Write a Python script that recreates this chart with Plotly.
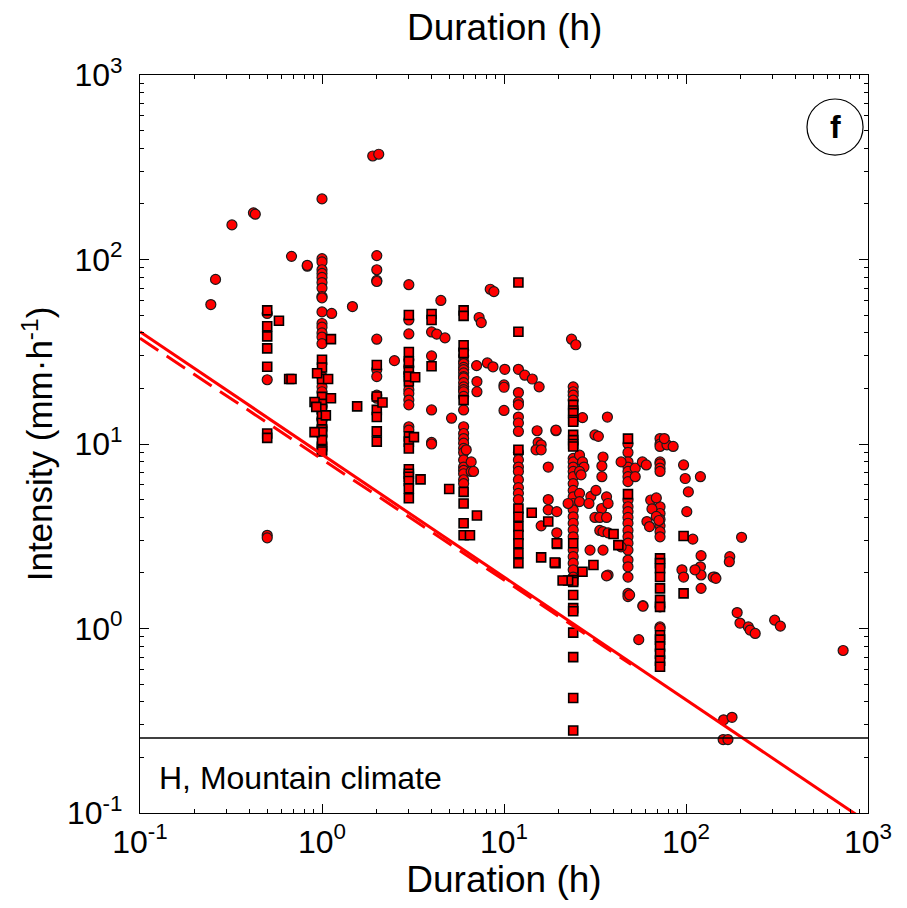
import plotly.graph_objects as go

# ---------------- data (duration h, intensity mm/h) ----------------
# circles grouped by duration column
circ_05h = [51, 22.3, 3.2, 3.1]
circ_1h = [213, 101, 97, 88, 84, 80, 75, 70, 63, 62, 52, 45, 43, 40, 38, 35,
           23.2, 20.4, 19.2, 17.3, 16, 14.7, 13.8, 13.5, 12.4, 11.9, 11.0, 10.1, 9.7, 9.3]
circ_2h = [105, 88, 77, 76, 37, 25.3, 23.2, 18.4, 17.7]
circ_3h = [73, 47, 39.5, 28.6, 26.2, 24.2, 19.7, 18.8, 17.3, 16.3, 12.4, 11.9]
circ_4h = [40.5, 30, 15.3, 10.2, 10.0]
circ_6h = [32.3, 30, 28, 27.3, 26, 25.3, 24.3, 23.2, 22.8, 21.5, 20.4, 19.7, 19.2, 18.1,
           15.3, 12.4, 11.4, 10.7, 10.1, 9.47, 9.0, 8.2, 7.5, 7.2, 6.9, 6.4, 6.1]
circ_12h = [25.4, 19, 16.9, 16.3, 14.0, 13.0, 11.7, 9.0, 8.2, 7.5, 7.1, 6.4, 5.8, 5.4, 5.0]
circ_24h = [20.4, 19.2, 18.4, 17.3, 8.36, 8.0, 7.5, 7.1, 6.65, 6.1, 5.6, 5.17, 4.76,
            4.4, 4.03, 3.72, 3.42, 3.14, 2.66, 2.45, 2.26, 2.08, 1.9]
circ_48h = [10.0, 9.0, 8.0, 7.5, 7.1, 6.65, 6.25, 4.97, 4.57, 4.3, 4.0, 3.72, 3.4, 3.14,
            2.9, 2.66, 2.35, 2.16, 1.9, 1.55, 1.49]
circ_72h = [10.7, 10.0, 9.7, 8.0, 7.8, 7.4, 7.1, 4.57, 4.2, 3.9, 3.6, 3.35, 3.14, 1.31, 1.02, 1.0]

# squares grouped by duration column
sq_05h = [53, 43.5, 38.3, 33, 26.2, 11.4, 10.8]
sq_1h = [28.6, 26, 22.5, 18, 16.5, 15.5, 14.3, 13, 12, 11.6, 10.5, 9.3, 9.1]
sq_2h = [26.8, 18.1, 15.3, 14.0, 11.7, 10.3]
sq_3h = [50, 31.5, 28, 24.6, 21.8, 23.2, 11, 10.3, 9.46, 7.3, 6.9, 6.65, 6.3, 5.75, 5.08]
sq_4h = [50.7, 47, 26.4]
sq_6h = [53, 49.5, 34.3, 31.1, 17.3, 5.5, 4.76, 3.72, 3.2]
sq_12h = [75, 40.6, 9.3, 4.47, 4.03, 3.56, 3.21, 2.9, 2.56, 2.26]
sq_24h = [16.3, 15.2, 14.7, 13.5, 13.2, 11.2, 10.5, 10.0, 9.7, 2.9, 1.83, 1.79, 1.52,
          1.29, 1.24, 0.95, 0.70, 0.42, 0.28]
sq_48h = [10.7, 5.35]
sq_72h = [2.4, 2.26, 2.12, 1.9, 1.65, 1.43, 1.31, 0.92, 0.87, 0.80, 0.73, 0.67, 0.62]

# off-column circles
circ_other_dur = [0.245, 0.26, 0.32, 0.42, 0.43, 0.68, 0.83, 0.83, 1.13, 1.47, 1.9, 2.05,
                  2.5, 4.27, 4.74, 5.15, 4.5, 6.2, 6.6, 6.6, 6.8, 7.3, 7.5, 7.07, 8.1, 8.7,
                  7.1, 7.1, 8.4, 8.8, 10.1, 10, 10, 10, 13, 14.3, 15.6, 15.2, 19.3, 15.4,
                  16, 15, 16, 17.5, 17.5, 17.5, 19.5, 16, 19.5, 19.3, 23.5, 24.8, 27, 26,
                  27, 27.5, 26, 26.5, 26, 26, 22.5, 37, 31.6, 33, 35, 34.5, 34.5, 30, 29.3,
                  32, 34.4, 36.6, 37.3, 31.6, 33.6, 36.6, 33.6, 35, 37.3, 44, 29.7, 35,
                  37.3, 36.6, 52.6, 52.6, 44, 57.6, 60.5, 64, 68.7, 65, 68.7, 71, 61, 63,
                  49, 58, 55, 58, 78.6, 76, 85, 97, 99, 103, 101, 109, 121, 120, 121, 121,
                  95, 97, 112, 120, 144, 141, 146, 174, 173, 202, 191, 198, 220, 225, 240,
                  307, 330, 730, 161, 179, 160, 170]
circ_other_int = [57, 78, 154, 179, 176, 104, 92, 93, 51, 55.6, 364, 372,
                  28.3, 39.4, 37.6, 13.8, 60, 9.3, 8.0, 7.1, 7.1, 48.5, 45.5, 26.6, 27.5, 26.2,
                  21.8, 19.2, 69, 67, 25.4, 20.9, 20.3, 15.2, 23.6, 22.5, 20.4, 11.8, 11.8, 10.2,
                  9.9, 9.3, 9.3, 7.5, 5.0, 4.4, 4.3, 3.6, 3.3, 11.9, 37, 34.5, 13.9, 8.7,
                  8.0, 7.5, 7.1, 6.8, 5.4, 4.87, 4.76, 14, 11.2, 11, 8.5, 7.6, 6.65, 5.2, 4.76,
                  5.6, 4.47, 5.17, 4.76, 4.0, 4.0, 4.0, 3.4, 3.35, 3.3, 2.77, 2.66, 2.66,
                  1.95, 1.93, 7.4, 6.65, 8.0, 8.0, 7.7, 4.97, 5.1, 4.45, 4.05, 3.85, 3.8, 3.57,
                  1.52, 1.33, 0.87, 1.32, 9.9, 10.7, 9.7, 7.7, 6.5, 5.5, 4.3, 3.05, 2.48, 2.16, 1.95,
                  1.65, 2.08, 1.9, 2.08, 6.65, 1.9, 1.9, 1.87, 2.45, 2.3, 3.12, 1.22, 1.07, 1.02, 0.98, 0.94,
                  1.11, 1.03, 0.76, 0.32, 0.33, 0.25, 0.25]

# off-column squares
sq_other_dur = [0.58, 0.66, 0.68, 0.94, 0.91, 0.93, 0.91, 1.08, 1.12, 1.12, 1.05, 1.56,
                2.15, 3.25, 3.2, 3.48, 5.0, 7.1, 6.5, 14.2, 17.5, 19.6, 16, 19.2, 19.5, 19,
                40, 42.5, 27, 31, 22.5, 21, 97, 97]
sq_other_int = [46.6, 22.5, 22.5, 24.2, 16.9, 15.9, 11.6, 22.5, 37, 17.7, 14.3, 16,
                16.8, 23, 10.9, 6.43, 5.7, 4.1, 3.2, 4.24, 3.8, 2.87, 2.43, 2.26, 2.9, 2.28,
                3.25, 2.83, 2.03, 2.21, 1.82, 1.82, 3.17, 1.55]

# threshold curves I = a * (D/0.1)^(-b)
thr_solid = (40.6, 0.665)
thr_dashed = (37.4, 0.655)
thr_dashed_end = 50
lower_limit = 0.255

circ_cols = {0.5: circ_05h, 1: circ_1h, 2: circ_2h, 3: circ_3h, 4: circ_4h, 6: circ_6h,
             12: circ_12h, 24: circ_24h, 48: circ_48h, 72: circ_72h}
sq_cols = {0.5: sq_05h, 1: sq_1h, 2: sq_2h, 3: sq_3h, 4: sq_4h, 6: sq_6h,
           12: sq_12h, 24: sq_24h, 48: sq_48h, 72: sq_72h}

cx, cy = [], []
for d, vals in circ_cols.items():
    cx += [d] * len(vals)
    cy += vals
cx += circ_other_dur
cy += circ_other_int
sx, sy = [], []
for d, vals in sq_cols.items():
    sx += [d] * len(vals)
    sy += vals
sx += sq_other_dur
sy += sq_other_int

FONT = "Liberation Sans, Arial, Helvetica, sans-serif"

fig = go.Figure()
fig.add_trace(go.Scatter(x=cx, y=cy, mode="markers",
                         marker=dict(symbol="circle", size=10, color="#ff0000",
                                     line=dict(color="#1a1a1a", width=1.2)),
                         showlegend=False))
fig.add_trace(go.Scatter(x=sx, y=sy, mode="markers",
                         marker=dict(symbol="square", size=9, color="#ff0000",
                                     line=dict(color="#000000", width=1.6)),
                         showlegend=False))

xs = [0.1, 1000]
fig.add_trace(go.Scatter(x=xs, y=[thr_solid[0] * (x / 0.1) ** (-thr_solid[1]) for x in xs],
                         mode="lines", line=dict(color="#ff0000", width=3), showlegend=False))
xd = [0.1, thr_dashed_end]
fig.add_trace(go.Scatter(x=xd, y=[thr_dashed[0] * (x / 0.1) ** (-thr_dashed[1]) for x in xd],
                         mode="lines", line=dict(color="#ff0000", width=3, dash="22px,10px"),
                         showlegend=False))

minor_vals = [m * 10 ** e for e in range(-1, 3) for m in range(2, 10)]
sup = lambda e: "10<sup>%d</sup>" % e

fig.update_xaxes(type="log", range=[-1, 3], automargin=False,
                 tickvals=[0.1, 1, 10, 100, 1000], ticktext=[sup(e) for e in range(-1, 4)],
                 ticks="inside", ticklen=9, tickwidth=1, tickcolor="black",
                 minor=dict(tickvals=minor_vals, ticks="inside", ticklen=4, tickcolor="black"),
                 showline=True, linecolor="black", linewidth=1.2, mirror="allticks",
                 showgrid=False, zeroline=False,
                 tickfont=dict(family=FONT, size=32, color="black"),
                 title=dict(text="Duration (h)", font=dict(family=FONT, size=37, color="black"),
                            standoff=4))
fig.update_yaxes(type="log", range=[-1, 3], automargin=False,
                 tickvals=[0.1, 1, 10, 100, 1000], ticktext=[sup(e) for e in range(-1, 4)],
                 ticks="inside", ticklen=9, tickwidth=1, tickcolor="black",
                 minor=dict(tickvals=minor_vals, ticks="inside", ticklen=4, tickcolor="black"),
                 showline=True, linecolor="black", linewidth=1.2, mirror="allticks",
                 showgrid=False, zeroline=False, ticklabelstandoff=10,
                 tickfont=dict(family=FONT, size=32, color="black"),
                 title=dict(text="Intensity (mm·h<sup>-1</sup>)",
                            font=dict(family=FONT, size=35, color="black"), standoff=3))

fig.add_shape(type="line", xref="x domain", yref="y", x0=0, x1=1, y0=lower_limit, y1=lower_limit,
              line=dict(color="black", width=1.3))
fig.add_shape(type="circle", xref="x domain", yref="y domain",
              x0=0.9547 - 0.0385, x1=0.9547 + 0.0385, y0=0.9295 - 0.038, y1=0.9295 + 0.038,
              line=dict(color="black", width=1.2))
fig.add_annotation(text="<b>f</b>", xref="x domain", yref="y domain", x=0.9547, y=0.9295,
                   xanchor="center", yanchor="middle", showarrow=False,
                   font=dict(family=FONT, size=32, color="black"))
fig.add_annotation(text="H, Mountain climate", xref="x domain", yref="y domain",
                   x=0.024, y=0.047, xanchor="left", yanchor="middle", showarrow=False,
                   font=dict(family=FONT, size=32, color="black"))
fig.add_annotation(text="Duration (h)", xref="x domain", yref="paper", x=0.5, y=1,
                   yanchor="middle", yshift=48, showarrow=False,
                   font=dict(family=FONT, size=37, color="black"))

# the page adds an 8 px body margin, so margins are reduced by 8 on left/top
fig.update_layout(width=907, height=908, plot_bgcolor="white", paper_bgcolor="white",
                  margin=dict(l=132, r=47, t=67, b=103), showlegend=False)

fig.write_html("out.html")
